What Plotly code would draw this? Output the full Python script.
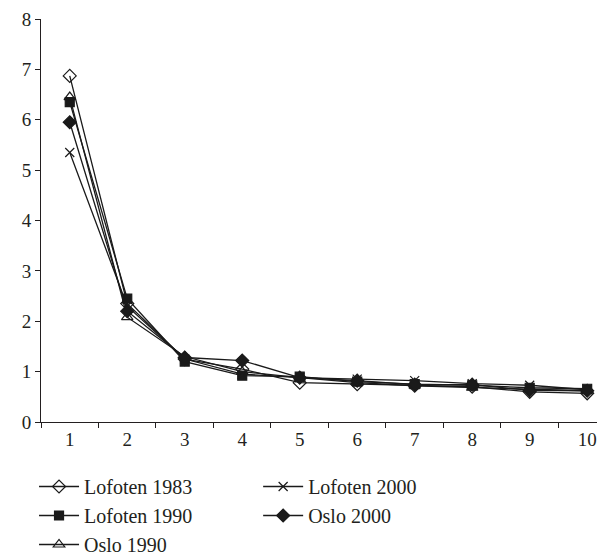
import plotly.graph_objects as go

categories = ["1", "2", "3", "4", "5", "6", "7", "8", "9", "10"]
lofoten_1983 = [6.87, 2.35, 1.25, 1.05, 0.78, 0.75, 0.72, 0.70, 0.60, 0.57]
lofoten_1990 = [6.35, 2.45, 1.20, 0.92, 0.90, 0.80, 0.75, 0.73, 0.68, 0.66]
oslo_1990 = [6.45, 2.08, 1.30, 1.00, 0.88, 0.78, 0.72, 0.68, 0.65, 0.62]
lofoten_2000 = [5.35, 2.30, 1.25, 0.95, 0.88, 0.85, 0.82, 0.76, 0.73, 0.64]
oslo_2000 = [5.95, 2.20, 1.28, 1.22, 0.88, 0.82, 0.74, 0.74, 0.63, 0.62]
y_ticks = [0, 1, 2, 3, 4, 5, 6, 7, 8]

FONT = "Liberation Serif"
series = [
    ("Lofoten 1983", lofoten_1983, "diamond-open", 10, "legend"),
    ("Lofoten 1990", lofoten_1990, "square", 9, "legend"),
    ("Oslo 1990", oslo_1990, "triangle-up-open", 10, "legend"),
    ("Lofoten 2000", lofoten_2000, "x-thin-open", 9, "legend2"),
    ("Oslo 2000", oslo_2000, "diamond", 10, "legend2"),
]

fig = go.Figure()
for name, vals, sym, size, leg in series:
    fig.add_trace(go.Scatter(
        x=categories, y=vals, name=name, mode="lines+markers",
        line=dict(color="#1a1a1a", width=1.3),
        marker=dict(symbol=sym, size=size, color="#1a1a1a",
                    line=dict(color="#1a1a1a", width=1.2)),
        legend=leg,
    ))

legend_common = dict(
    font=dict(family=FONT, size=20, color="#231f20"),
    bgcolor="rgba(0,0,0,0)", orientation="v",
    xanchor="left", yanchor="top", yref="container", xref="container",
    tracegroupgap=0, itemwidth=40,
)
fig.update_layout(
    width=597, height=556,
    margin=dict(l=33, r=0, t=11, b=142, autoexpand=False),
    paper_bgcolor="white", plot_bgcolor="white",
    font=dict(family=FONT, size=18, color="#231f20"),
    showlegend=True,
    legend=dict(x=0.0436, y=0.1745, **legend_common),
    legend2=dict(x=0.419, y=0.1745, **legend_common),
    xaxis=dict(
        type="category", tickson="boundaries", range=[-0.5, 9.31],
        showline=True, linecolor="#231f20", linewidth=1,
        ticks="outside", ticklen=5, tickcolor="#231f20",
        showgrid=False, zeroline=False,
        tickfont=dict(family=FONT, size=19, color="#231f20"),
    ),
    yaxis=dict(
        range=[0, 8], tickvals=y_ticks,
        showline=True, linecolor="#231f20", linewidth=1,
        ticks="outside", ticklen=5, tickcolor="#231f20",
        showgrid=False, zeroline=False,
        tickfont=dict(family=FONT, size=19, color="#231f20"),
    ),
)

fig.write_html("out.html")
